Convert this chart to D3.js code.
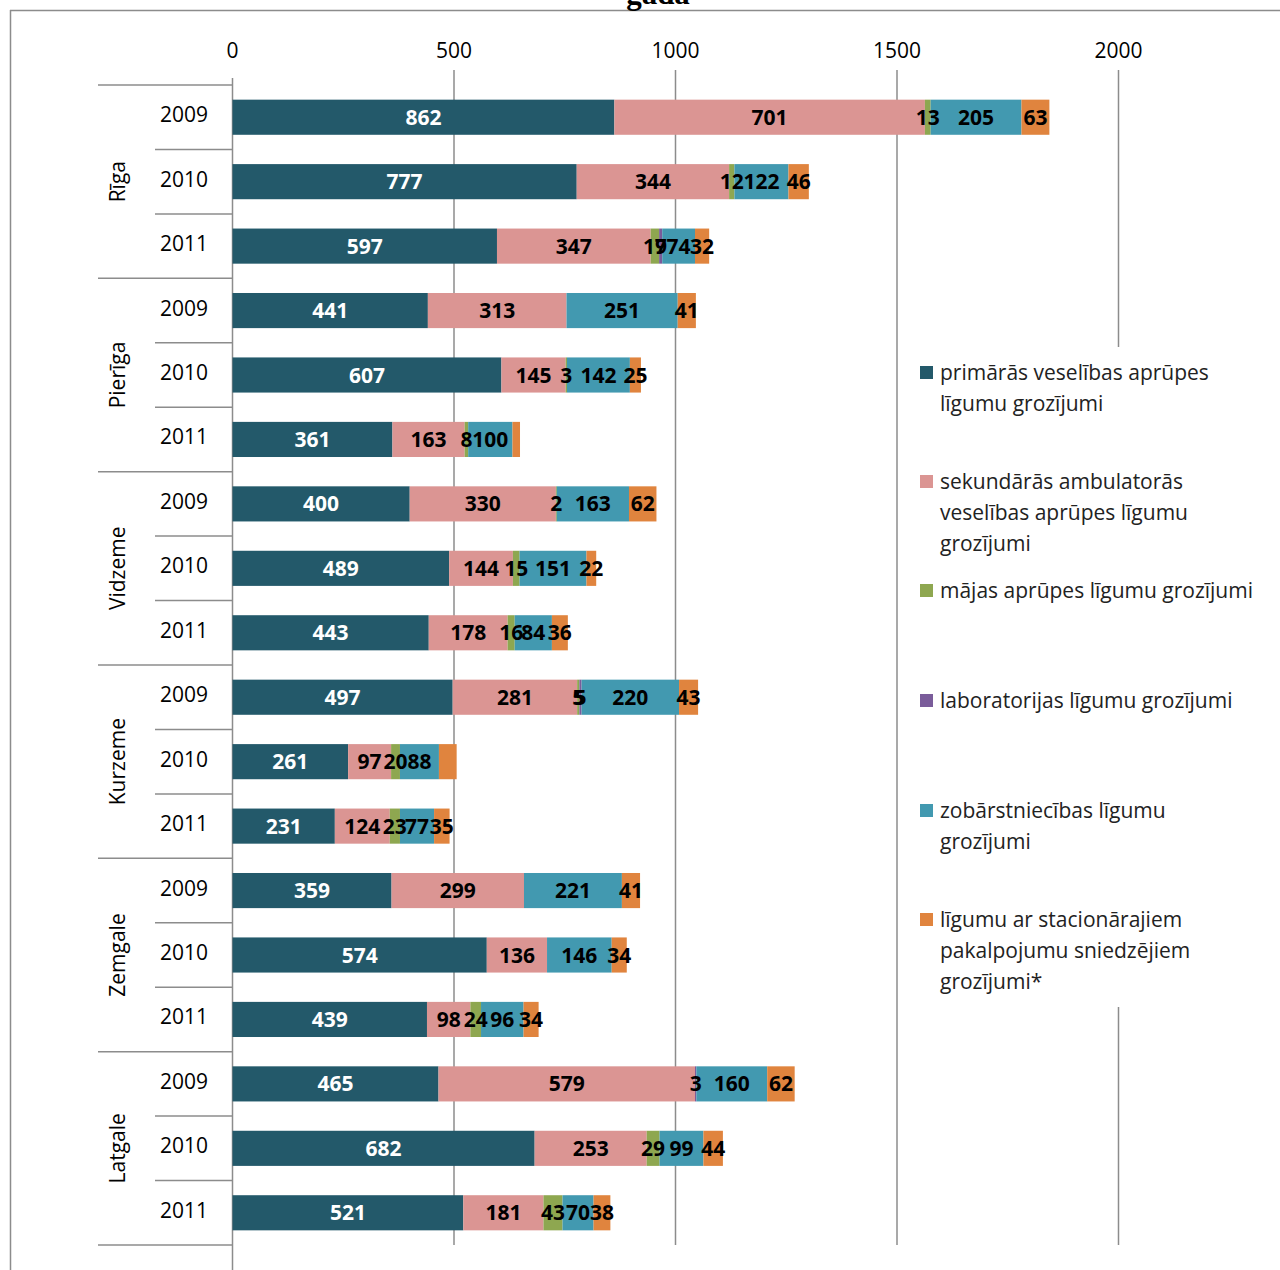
<!DOCTYPE html>
<html><head><meta charset="utf-8">
<script src="https://cdn.jsdelivr.net/npm/d3@7"></script>
<style>body{margin:0;background:#fff}</style>
</head><body>
<svg id="c" width="1280" height="1270"></svg>
<script>
const regions = ["Rīga","Pierīga","Vidzeme","Kurzeme","Zemgale","Latgale"];
const years = ["2009","2010","2011"];
const seriesNames = [
  "primārās veselības aprūpes līgumu grozījumi",
  "sekundārās ambulatorās veselības aprūpes līgumu grozījumi",
  "mājas aprūpes līgumu grozījumi",
  "laboratorijas līgumu grozījumi",
  "zobārstniecības līgumu grozījumi",
  "līgumu ar stacionārajiem pakalpojumu sniedzējiem grozījumi*"
];
const legendLines = [
  ["primārās veselības aprūpes","līgumu grozījumi"],
  ["sekundārās ambulatorās","veselības aprūpes līgumu","grozījumi"],
  ["mājas aprūpes līgumu grozījumi"],
  ["laboratorijas līgumu grozījumi"],
  ["zobārstniecības līgumu","grozījumi"],
  ["līgumu ar stacionārajiem","pakalpojumu sniedzējiem","grozījumi*"]
];
const colors = ["#23596a","#db9593","#8ea750","#7a5c9a","#4299b0","#e0843e"];
// rows: Rīga 2009..2011, Pierīga ..., Latgale 2011
const primary    = [862,777,597, 441,607,361, 400,489,443, 497,261,231, 359,574,439, 465,682,521];
const secondary  = [701,344,347, 313,145,163, 330,144,178, 281,97,124, 299,136,98, 579,253,181];
const homeCare   = [13,12,19, null,3,8, 2,15,16, 5,20,23, null,null,24, null,29,43];
const laboratory = [null,null,7, null,null,null, null,null,null, 5,null,null, null,null,null, 3,null,null];
const dental     = [205,122,74, 251,142,100, 163,151,84, 220,88,77, 221,146,96, 160,99,70];
const inpatient  = [63,46,32, 41,25,17, 62,22,36, 43,40,35, 41,34,34, 62,44,38];
// labels not shown in the reference (row index, series index)
const hiddenLabels = [[5,5],[10,5]];
const ticks = [0,500,1000,1500,2000];

const series = [primary, secondary, homeCare, laboratory, dental, inpatient];
const svg = d3.select("#c");
const font = "'Open Sans', sans-serif";

// frame
svg.append("line").attr("x1",10).attr("x2",1280).attr("y1",10.5).attr("y2",10.5).attr("stroke","#8c8c8c").attr("stroke-width",1.5);
svg.append("line").attr("x1",10.5).attr("x2",10.5).attr("y1",10).attr("y2",1270).attr("stroke","#8c8c8c").attr("stroke-width",1.5);
svg.append("text").attr("x",658).attr("y",4).attr("text-anchor","middle")
  .attr("font-family","'Liberation Serif', serif").attr("font-weight","bold").attr("font-size",31).text("gada");

const rows = [];
regions.forEach((r,ri)=>years.forEach((y,yi)=>rows.push({key:r+"|"+y, region:r, year:y, idx:ri*3+yi})));
const x = d3.scaleLinear().domain([0,2000]).range([232.5,1118.5]);
const yb = d3.scaleBand().domain(rows.map(d=>d.key)).range([85,1245]).paddingInner(0.455).paddingOuter(0.2275);
const step = yb.step();

// gridlines + top axis
const gx = svg.append("g");
ticks.forEach(t=>{
  gx.append("line").attr("x1",x(t)).attr("x2",x(t)).attr("y1",t===0?78:70).attr("y2",t===0?1270:1245)
    .attr("stroke","#8c8c8c").attr("stroke-width",1.5);
  gx.append("text").attr("x",x(t)).attr("y",58).attr("text-anchor","middle")
    .attr("font-family",font).attr("font-size",21).attr("fill","#000").text(t);
});

// stacked bars
const stackData = rows.map(r=>{
  let acc=0; const segs=[];
  series.forEach((s,si)=>{
    const v=s[r.idx];
    if(v!=null){segs.push({si,v,x0:acc,x1:acc+v,row:r}); acc+=v;}
  });
  return segs;
}).flat();

const bars = svg.append("g");
bars.selectAll("rect").data(stackData).join("rect")
  .attr("x",d=>x(d.x0)).attr("width",d=>x(d.x1)-x(d.x0))
  .attr("y",d=>yb(d.row.key)).attr("height",yb.bandwidth())
  .attr("fill",d=>colors[d.si]);

const isHidden = d=>hiddenLabels.some(h=>h[0]===d.row.idx&&h[1]===d.si);
bars.selectAll("text").data(stackData.filter(d=>!isHidden(d))).join("text")
  .attr("x",d=>(x(d.x0)+x(d.x1))/2).attr("y",d=>yb(d.row.key)+yb.bandwidth()/2+7.5)
  .attr("text-anchor","middle").attr("font-family",font).attr("font-weight","bold").attr("font-size",21)
  .attr("fill",d=>d.si===0?"#fff":"#000").text(d=>d.v);

// category axis (left)
const ca = svg.append("g");
rows.forEach(r=>{
  ca.append("text").attr("x",208).attr("y",yb(r.key)+yb.bandwidth()/2+5)
    .attr("text-anchor","end").attr("font-family",font).attr("font-size",21).text(r.year);
});
for(let i=0;i<=rows.length;i++){
  const yy = 85 + i*step;
  const isGroup = i%3===0;
  ca.append("line").attr("x1",isGroup?98:155).attr("x2",232).attr("y1",yy).attr("y2",yy)
    .attr("stroke","#8c8c8c").attr("stroke-width",1.5);
}
regions.forEach((r,ri)=>{
  const cy = 85 + (ri*3+1.5)*step;
  ca.append("text").attr("transform",`translate(125,${cy}) rotate(-90)`).attr("text-anchor","middle")
    .attr("font-family",font).attr("font-size",21).text(r);
});

// legend
svg.append("rect").attr("x",906).attr("y",347).attr("width",374).attr("height",660).attr("fill","#fff");
const legY = [373,482,591,701,811,920];
const lg = svg.append("g");
seriesNames.forEach((n,i)=>{
  lg.append("rect").attr("x",920).attr("y",legY[i]-7).attr("width",13).attr("height",13).attr("fill",colors[i]);
  legendLines[i].forEach((ln,li)=>{
    lg.append("text").attr("x",940).attr("y",legY[i]+7+li*31.2).attr("font-family",font).attr("font-size",21)
      .attr("fill","#222").text(ln);
  });
});
</script>
</body></html>
